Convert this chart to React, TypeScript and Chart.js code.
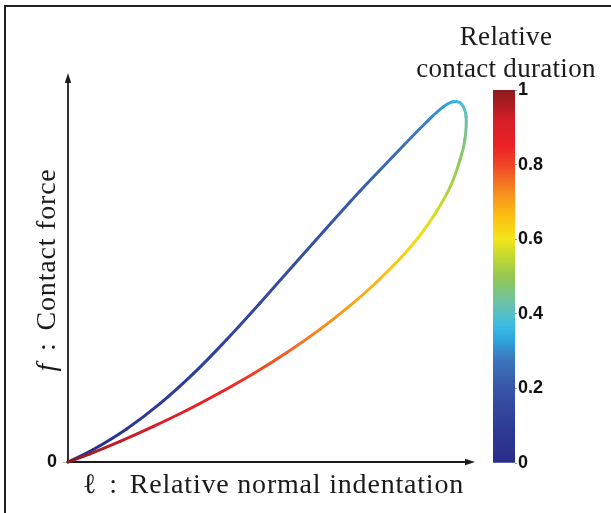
import { useEffect, useRef } from 'react';
import { Chart, registerables } from 'chart.js';

Chart.register(...registerables);

// Relative normal indentation (x, % of axis length)
const indentation = [0, 6.2, 14.4, 22.6, 30.8, 39.0, 47.2, 55.4, 63.6, 71.7, 79.9, 88.1, 92.2, 94.7, 96.7, 97.8, 97.5, 96.3, 93.9, 90.6, 86.5, 81.6, 75.8, 69.3, 61.9, 53.7, 45.5, 37.3, 29.2, 21.0, 12.8, 5.4, 0];
// Contact force (y, % of axis length)
const force = [0, 3.2, 8.5, 15.0, 22.7, 31.5, 40.9, 50.6, 60.2, 69.6, 78.6, 87.4, 91.3, 92.6, 92.0, 88.8, 82.8, 77.6, 70.7, 64.5, 58.3, 52.3, 46.2, 40.2, 34.1, 28.1, 22.7, 17.8, 13.3, 9.15, 5.3, 2.1, 0];
// Relative contact duration (colour value) at each point
const duration = [0, 0.03, 0.06, 0.09, 0.11, 0.13, 0.15, 0.17, 0.19, 0.22, 0.25, 0.29, 0.32, 0.35, 0.38, 0.42, 0.46, 0.49, 0.53, 0.57, 0.61, 0.64, 0.67, 0.70, 0.73, 0.77, 0.81, 0.85, 0.88, 0.91, 0.94, 0.97, 1.0];

const originTickLabel = '0';
const colorbarTickValues = [0, 0.2, 0.4, 0.6, 0.8, 1];
const colorbarTickLabels = ['0', '0.2', '0.4', '0.6', '0.8', '1'];

// jet-like colormap as printed
const cmapStops: [number, string][] = [
  [0, '#2a2d86'], [0.1, '#2e3d97'], [0.2, '#3755a5'], [0.28, '#3c78bd'],
  [0.33, '#2ea6df'], [0.37, '#3dbce3'], [0.42, '#66c1b0'], [0.5, '#95c753'],
  [0.56, '#c9db2c'], [0.6, '#f3e51b'], [0.66, '#fcc012'], [0.72, '#f7921e'],
  [0.79, '#f04e25'], [0.85, '#ec2026'], [0.92, '#d41f27'], [1, '#8a1b1d'],
];

function hexToRgb(h: string) {
  const n = parseInt(h.slice(1), 16);
  return [(n >> 16) & 255, (n >> 8) & 255, n & 255];
}
function colorAt(t: number) {
  const v = Math.max(0, Math.min(1, t));
  for (let i = 0; i < cmapStops.length - 1; i++) {
    const [a, ca] = cmapStops[i];
    const [b, cb] = cmapStops[i + 1];
    if (v >= a && v <= b) {
      const f = b === a ? 0 : (v - a) / (b - a);
      const A = hexToRgb(ca), B = hexToRgb(cb);
      const r = Math.round(A[0] + (B[0] - A[0]) * f);
      const g = Math.round(A[1] + (B[1] - A[1]) * f);
      const bl = Math.round(A[2] + (B[2] - A[2]) * f);
      return `rgb(${r},${g},${bl})`;
    }
  }
  return cmapStops[cmapStops.length - 1][1];
}

const AXIS_COLOR = '#1c1c1c';
const serif = '"Liberation Serif", "Times New Roman", serif';
const sans = '"Liberation Sans", Arial, sans-serif';

const axisArrows = {
  id: 'axisArrows',
  beforeDatasetsDraw(chart: any) {
    const { ctx, scales } = chart;
    const xs = scales.x, ys = scales.y;
    const x0 = xs.getPixelForValue(0);
    const xEnd = xs.getPixelForValue(100);
    const y0 = ys.getPixelForValue(0);
    const yEnd = ys.getPixelForValue(100);
    ctx.save();
    ctx.strokeStyle = AXIS_COLOR;
    ctx.fillStyle = AXIS_COLOR;
    ctx.lineWidth = 1.8;
    ctx.beginPath();
    ctx.moveTo(x0, y0);
    ctx.lineTo(x0, yEnd + 8);
    ctx.moveTo(x0, y0);
    ctx.lineTo(xEnd - 8, y0);
    ctx.stroke();
    // y arrow head
    ctx.beginPath();
    ctx.moveTo(x0, yEnd);
    ctx.lineTo(x0 - 3.2, yEnd + 10);
    ctx.lineTo(x0 + 3.2, yEnd + 10);
    ctx.closePath();
    ctx.fill();
    // x arrow head
    ctx.beginPath();
    ctx.moveTo(xEnd, y0);
    ctx.lineTo(xEnd - 10, y0 - 3.2);
    ctx.lineTo(xEnd - 10, y0 + 3.2);
    ctx.closePath();
    ctx.fill();
    ctx.restore();
  },
};

export default function App() {
  const mainRef = useRef<HTMLCanvasElement>(null);
  const cbRef = useRef<HTMLCanvasElement>(null);

  useEffect(() => {
    const canvas = mainRef.current!;
    const c2d = canvas.getContext('2d')!;
    const points = indentation.map((x, i) => ({ x, y: force[i] }));

    const main = new Chart(canvas, {
      type: 'line',
      data: {
        datasets: [
          {
            data: points,
            borderWidth: 3,
            pointRadius: 0,
            tension: 0.4,
            fill: false,
            clip: false as any,
            borderCapStyle: 'round',
            borderJoinStyle: 'round',
            borderColor: colorAt(0.2),
            segment: {
              borderColor: (sc: any) => {
                const g = c2d.createLinearGradient(sc.p0.x, sc.p0.y, sc.p1.x, sc.p1.y);
                g.addColorStop(0, colorAt(duration[sc.p0DataIndex]));
                g.addColorStop(1, colorAt(duration[sc.p1DataIndex]));
                return g;
              },
            },
          } as any,
        ],
      },
      options: {
        responsive: false,
        animation: false,
        events: [],
        layout: { padding: { left: 40, right: 136, top: 73, bottom: 51 } },
        plugins: { legend: { display: false }, tooltip: { enabled: false } },
        scales: {
          x: { type: 'linear', min: 0, max: 100, display: false },
          y: {
            type: 'linear',
            min: 0,
            max: 100,
            afterBuildTicks: (s: any) => { s.ticks = [{ value: 0 }]; },
            afterFit: (s: any) => { s.width = 28; },
            ticks: {
              font: { family: sans, weight: 'bold', size: 18 },
              color: '#111',
              padding: 6,
              callback: () => originTickLabel,
            },
            grid: { drawOnChartArea: false, tickLength: 5, color: '#aaa', lineWidth: 1 },
            border: { display: false },
          },
        },
      } as any,
      plugins: [axisArrows],
    });

    const cb = new Chart(cbRef.current!, {
      type: 'bar',
      data: {
        labels: ['duration'],
        datasets: [
          {
            data: [[0, 1]] as any,
            barPercentage: 1,
            categoryPercentage: 1,
            borderWidth: 0,
            backgroundColor: (ctx: any) => {
              const ch = ctx.chart;
              const ys = ch.scales.y;
              if (!ch.chartArea || !ys) return '#888';
              const g = ch.ctx.createLinearGradient(0, ys.getPixelForValue(0), 0, ys.getPixelForValue(1));
              cmapStops.forEach(([p, c]) => g.addColorStop(p, c));
              return g;
            },
          },
        ],
      },
      options: {
        responsive: false,
        animation: false,
        events: [],
        layout: { padding: { left: 13, right: 0, top: 12, bottom: 15 } },
        plugins: { legend: { display: false }, tooltip: { enabled: false } },
        scales: {
          x: { display: false },
          y: {
            position: 'right',
            min: 0,
            max: 1,
            afterBuildTicks: (s: any) => { s.ticks = colorbarTickValues.map((value) => ({ value })); },
            afterFit: (s: any) => { s.width = 45; },
            ticks: {
              font: { family: sans, weight: 'bold', size: 18 },
              color: '#111',
              padding: 1,
              callback: (_v: any, i: number) => colorbarTickLabels[i],
            },
            grid: { drawOnChartArea: false, tickLength: 2, color: '#999' },
            border: { display: false },
          },
        },
      } as any,
    });

    return () => {
      main.destroy();
      cb.destroy();
    };
  }, []);

  const textColor = '#1a1a1a';

  return (
    <div style={{ position: 'fixed', left: 0, top: 0, width: 611, height: 513, background: '#fff', overflow: 'hidden' }}>
      <div style={{ position: 'absolute', left: 4, top: 5, width: 700, height: 2, background: '#222' }} />
      <div style={{ position: 'absolute', left: 4, top: 5, width: 2, height: 600, background: '#222' }} />
      <canvas ref={mainRef} width={611} height={513} style={{ position: 'absolute', left: 0, top: 0 }} />
      <canvas ref={cbRef} width={80} height={400} style={{ position: 'absolute', left: 480, top: 78 }} />
      <div
        style={{
          position: 'absolute', left: 406, top: 20, width: 200, textAlign: 'center',
          fontFamily: serif, fontSize: 27, lineHeight: '32px', color: textColor, letterSpacing: 0.3,
          whiteSpace: 'nowrap',
        }}
      >
        Relative
        <br />
        contact duration
      </div>
      <div
        style={{
          position: 'absolute', left: 83, top: 470, whiteSpace: 'nowrap',
          fontFamily: serif, fontSize: 28, lineHeight: '28px', color: textColor, letterSpacing: 0.8,
        }}
      >
        <span>ℓ</span>
        <span style={{ margin: '0 12px 0 12px' }}>:</span>
        <span>Relative normal indentation</span>
      </div>
      <div
        style={{
          position: 'absolute', left: 46 - 150, top: 270 - 14, width: 300, height: 28, textAlign: 'center',
          fontFamily: serif, fontSize: 28, lineHeight: '28px', color: textColor, letterSpacing: 0.8,
          whiteSpace: 'nowrap', transform: 'rotate(-90deg)',
        }}
      >
        <span style={{ fontStyle: 'italic' }}>f</span>
        <span style={{ margin: '0 12px 0 12px' }}>:</span>
        <span>Contact force</span>
      </div>
    </div>
  );
}
